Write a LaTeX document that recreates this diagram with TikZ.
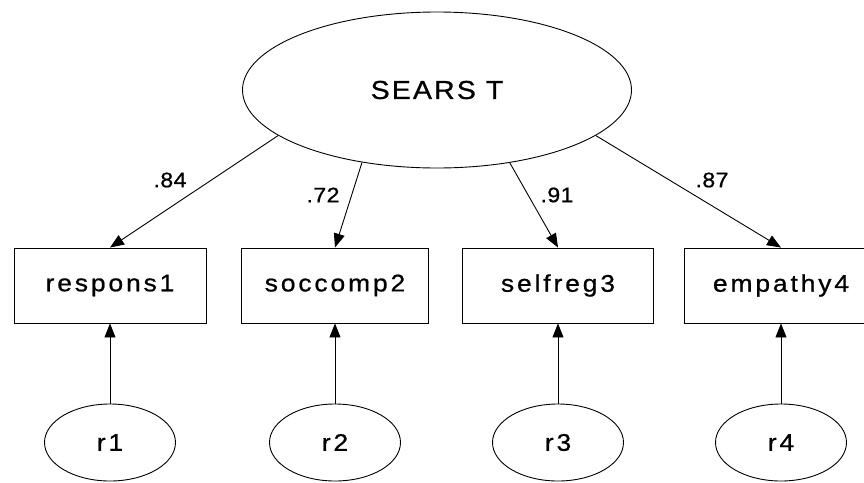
\documentclass[tikz,border=0pt]{standalone}
\usepackage{fontspec}
\usetikzlibrary{shapes.geometric,arrows.meta}
\newfontfamily\boxfont{Liberation Sans}[FakeStretch=1.1,LetterSpace=12,FakeBold=0.8]
\newfontfamily\titlefont{Liberation Sans}[FakeStretch=1.1,LetterSpace=8,FakeBold=0.8]
\newfontfamily\numfont{Liberation Sans}[FakeStretch=1.1,LetterSpace=2,FakeBold=0.8]
\begin{document}
\begin{tikzpicture}[x=1pt,y=-1pt,
  line width=0.9pt,
  latent/.style={draw,ellipse,inner sep=0pt,font=\titlefont\fontsize{26}{28}\selectfont},
  observed/.style={draw,rectangle,inner sep=0pt,minimum height=75pt,font=\boxfont\fontsize{24}{26}\selectfont},
  resid/.style={draw,ellipse,inner sep=0pt,minimum width=131pt,minimum height=77pt,font=\boxfont\fontsize{24}{26}\selectfont},
  loading/.style={font=\numfont\fontsize{21}{23}\selectfont,inner sep=0pt},
  arr/.style={-{Triangle[length=14pt,width=11pt]}}]
\useasboundingbox (0,0) rectangle (864,482);
\clip (0,0) rectangle (864,482);
\node[latent,minimum width=389pt,minimum height=156pt] (S) at (437,90) {SEARS T};
\node[observed,minimum width=192pt] (b1) at (110,285.5) {respons1};
\node[observed,minimum width=187pt] (b2) at (335,285.5) {soccomp2};
\node[observed,minimum width=191pt] (b3) at (558,285.5) {selfreg3};
\node[observed,minimum width=194pt] (b4) at (781,285.5) {empathy4};
\node[resid] (r1) at (110,442.5) {r1};
\node[resid] (r2) at (335,442.5) {r2};
\node[resid] (r3) at (558,442.5) {r3};
\node[resid] (r4) at (781,442.5) {r4};
\draw[arr] (S.196.2) -- (b1.north);
\draw[arr] (S.224.6) -- (b2.north);
\draw[arr] (S.315) -- (b3.north);
\draw[arr] (S.344.4) -- (b4.north);
\draw[arr] (r1) -- (b1);
\draw[arr] (r2) -- (b2);
\draw[arr] (r3) -- (b3);
\draw[arr] (r4) -- (b4);
\node[loading] (l1) at (170,180) {.84};
\node[loading] (l2) at (323,195) {.72};
\node[loading] (l3) at (557,195) {.91};
\node[loading] (l4) at (712,180) {.87};
\end{tikzpicture}
\end{document}
